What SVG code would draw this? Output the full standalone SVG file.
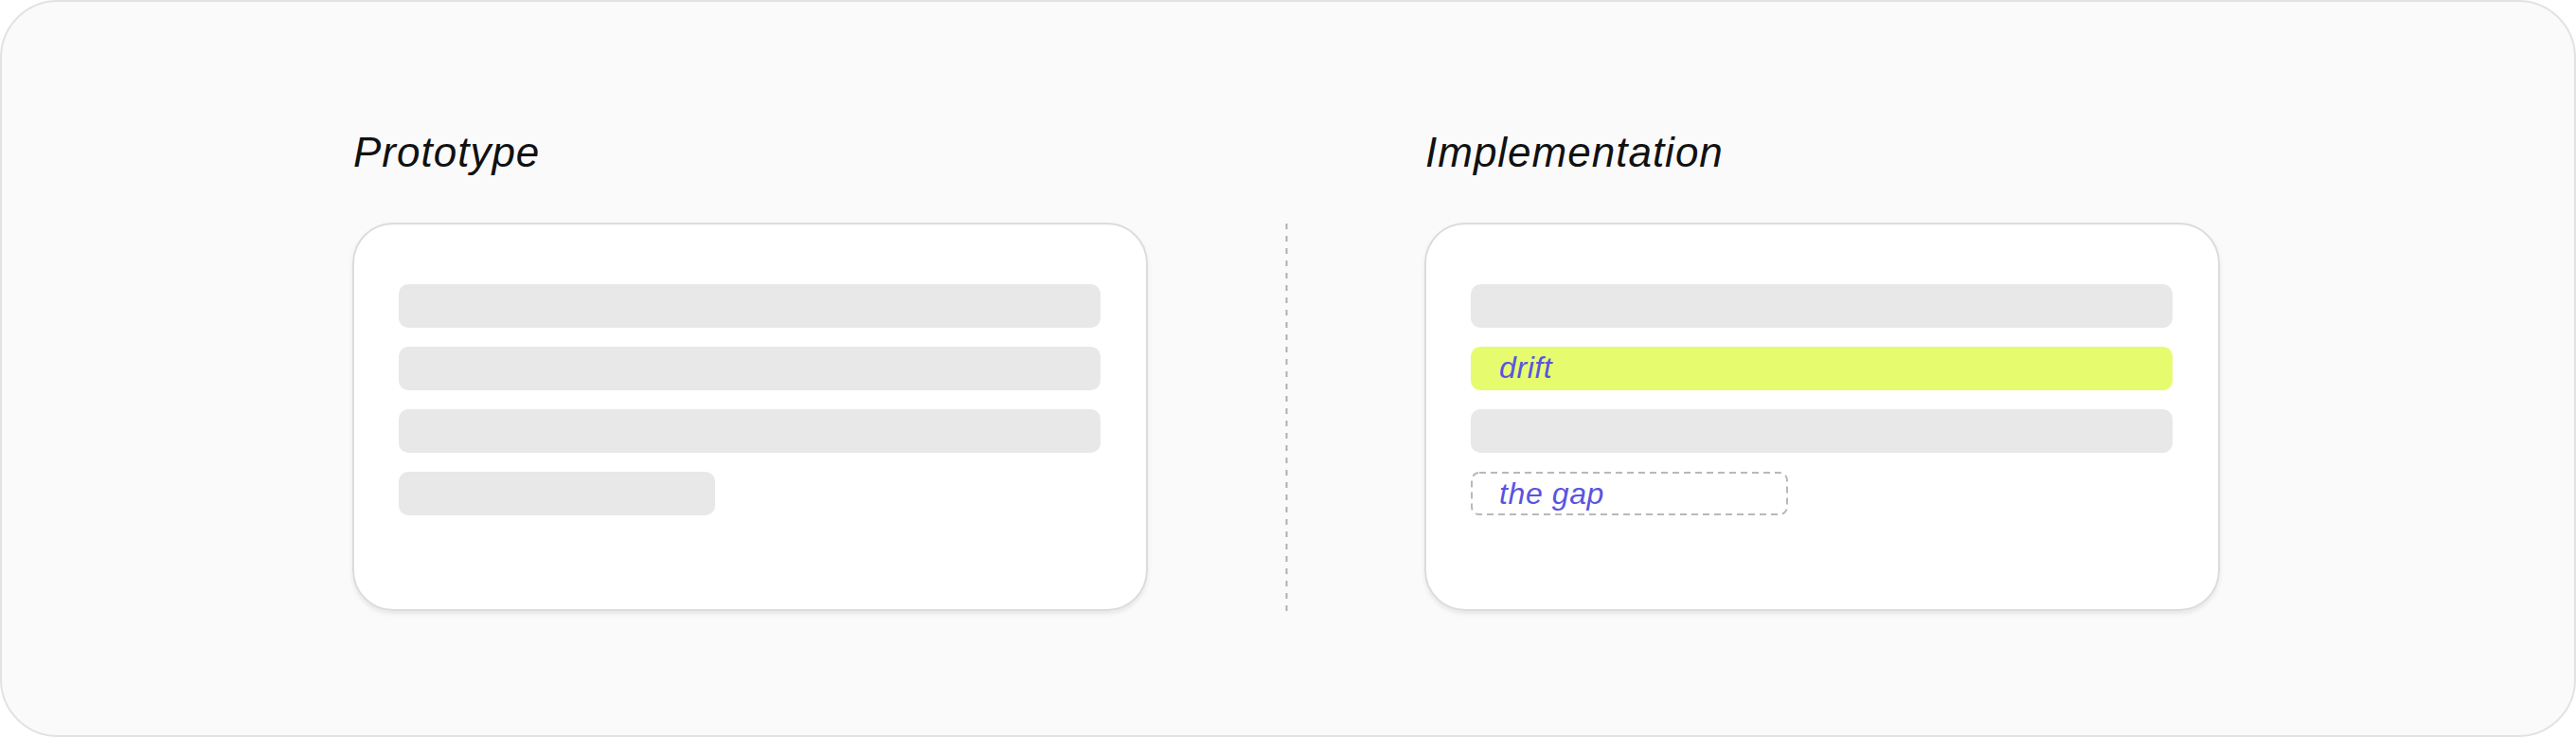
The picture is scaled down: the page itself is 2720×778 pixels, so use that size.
<svg xmlns="http://www.w3.org/2000/svg" width="2720" height="778" viewBox="0 0 2720 778">
<defs>
<style>
.title{font-family:"Liberation Sans","DejaVu Sans",sans-serif;font-style:italic;font-size:44px;letter-spacing:1px;fill:#111111}
.label{font-family:"Liberation Sans","DejaVu Sans",sans-serif;font-style:italic;font-size:32px;letter-spacing:0.6px;fill:#5a54e0}
.card{fill:#ffffff;stroke:#dcdcdc;stroke-width:2}
.bar{fill:#e8e8e8}
.drift{fill:#e6fc6e}
.gap{fill:none;stroke:#b8b8bc;stroke-width:2;stroke-dasharray:7 5}
.divider{stroke:#b0b0b4;stroke-width:2;stroke-dasharray:6 7}
</style>
<filter id="sh" x="-5%" y="-5%" width="110%" height="115%">
<feDropShadow dx="0" dy="3" stdDeviation="2" flood-color="#000000" flood-opacity="0.08"/>
</filter>
</defs>
<rect x="1" y="1" width="2718" height="776" rx="60" fill="#fafafa" stroke="#e2e2e2" stroke-width="2"/>
<g id="prototype">
<text class="title" x="373" y="176">Prototype</text>
<rect class="card" x="373" y="236" width="838" height="408" rx="42" filter="url(#sh)"/>
<rect class="bar" x="421" y="300" width="741" height="46" rx="10"/>
<rect class="bar" x="421" y="366" width="741" height="46" rx="10"/>
<rect class="bar" x="421" y="432" width="741" height="46" rx="10"/>
<rect class="bar" x="421" y="498" width="334" height="46" rx="10"/>
</g>
<g id="connectors">
<line class="divider" x1="1358.5" y1="236" x2="1358.5" y2="647"/>
</g>
<g id="implementation">
<text class="title" x="1505" y="176">Implementation</text>
<rect class="card" x="1505" y="236" width="838" height="408" rx="42" filter="url(#sh)"/>
<rect class="bar" x="1553" y="300" width="741" height="46" rx="10"/>
<g id="drift">
<rect class="drift" x="1553" y="366" width="741" height="46" rx="10"/>
<text class="label" x="1583" y="399">drift</text>
</g>
<rect class="bar" x="1553" y="432" width="741" height="46" rx="10"/>
<g id="the-gap">
<rect class="gap" x="1554" y="499" width="333" height="44" rx="8"/>
<text class="label" x="1583" y="532">the gap</text>
</g>
</g>
</svg>
